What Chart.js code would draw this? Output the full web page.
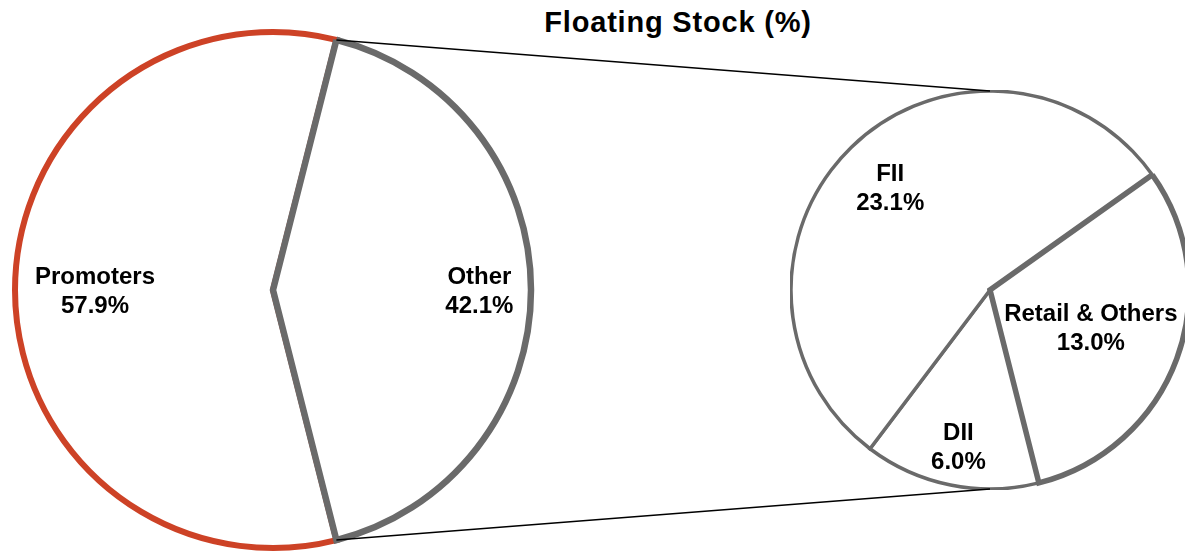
<!DOCTYPE html>
<html>
<head>
<meta charset="utf-8">
<script src="https://cdn.jsdelivr.net/npm/chart.js@4.4.1/dist/chart.umd.min.js"></script>
<style>
  html, body { margin: 0; padding: 0; background: #fff; width: 1185px; height: 552px; overflow: hidden; }
  #title {
    position: absolute; left: 428px; top: 6px; width: 500px; text-align: center;
    font: bold 29px "Liberation Sans", Arial, sans-serif; letter-spacing: 0.8px; line-height: 32px; color: #000;
  }
  #mainBox { position: absolute; left: 3px; top: 20px; }
  #subBox { position: absolute; left: 790px; top: 90px; }
  #overlay { position: absolute; left: 0; top: 0; pointer-events: none; }
</style>
</head>
<body>
<div id="title">Floating Stock (%)</div>
<div id="mainBox"><canvas id="mainPie" width="540" height="540"></canvas></div>
<div id="subBox"><canvas id="subPie" width="400" height="400"></canvas></div>
<canvas id="overlay" width="1185" height="552"></canvas>
<script>
'use strict';

// shareholding data
const mainLabels = ['Promoters', 'Other'];
const mainValues = [57.9, 42.1];

// the "Other" slice split out
const subLabels = ['DII', 'FII', 'Retail & Others'];
const subValues = [6.0, 23.1, 13.0];

const red = '#cd4226';
const grey = '#6a6a6a';

// turn the pie so the "Other" slice faces the second pie
const total = mainValues[0] + mainValues[1];
const promoDeg = mainValues[0] / total * 360;
const otherDeg = mainValues[1] / total * 360;
const pieRotation = 450 - promoDeg - otherDeg / 2;

// draws name + value inside each slice
const sliceLabels = {
  id: 'sliceLabels',
  afterDatasetsDraw(chart, args, opts) {
    const ctx = chart.ctx;
    const meta = chart.getDatasetMeta(0);
    ctx.save();
    ctx.font = 'bold 24px "Liberation Sans", Arial, sans-serif';
    ctx.fillStyle = '#000';
    ctx.textAlign = 'center';
    ctx.textBaseline = 'middle';
    meta.data.forEach((arc, i) => {
      const p = arc.getProps(['x', 'y', 'startAngle', 'endAngle', 'outerRadius'], true);
      const mid = (p.startAngle + p.endAngle) / 2;
      const r = p.outerRadius * opts.factors[i];
      const x = p.x + Math.cos(mid) * r;
      const y = p.y + Math.sin(mid) * r + 1.5;
      const value = chart.data.datasets[0].data[i];
      ctx.fillText(chart.data.labels[i], x, y - 14.5);
      ctx.fillText(value.toFixed(1) + '%', x, y + 14.5);
    });
    ctx.restore();
  }
};

function pieConfig(labels, values, borderColors, borderWidths, radius, factors) {
  return {
    type: 'pie',
    data: {
      labels: labels,
      datasets: [{
        data: values,
        backgroundColor: '#ffffff',
        borderColor: borderColors,
        borderWidth: borderWidths,
        borderJoinStyle: 'miter'
      }]
    },
    options: {
      responsive: false,
      animation: false,
      rotation: pieRotation,
      radius: radius,
      layout: { padding: 0 },
      events: [],
      plugins: {
        legend: { display: false },
        tooltip: { enabled: false },
        title: { display: false },
        sliceLabels: { factors: factors }
      }
    },
    plugins: [sliceLabels]
  };
}

const mainChart = new Chart(document.getElementById('mainPie'),
  pieConfig(mainLabels, mainValues, [red, grey], [6, 6.5], 258, [0.69, 0.80]));

const subChart = new Chart(document.getElementById('subPie'),
  pieConfig(subLabels, subValues, [grey, grey, grey], [3.5, 3.5, 5.5], 199, [0.80, 0.72, 0.54]));

// connector lines from the "Other" slice edges to the top/bottom of the second pie
function drawConnectors() {
  const ctx = document.getElementById('overlay').getContext('2d');
  const mr = mainChart.canvas.getBoundingClientRect();
  const sr = subChart.canvas.getBoundingClientRect();
  const other = mainChart.getDatasetMeta(0).data[1].getProps(['x', 'y', 'startAngle', 'endAngle', 'outerRadius'], true);
  const sub = subChart.getDatasetMeta(0).data[0].getProps(['x', 'y', 'outerRadius'], true);

  const x1 = mr.left + other.x + Math.cos(other.startAngle) * other.outerRadius;
  const y1 = mr.top + other.y + Math.sin(other.startAngle) * other.outerRadius;
  const x2 = mr.left + other.x + Math.cos(other.endAngle) * other.outerRadius;
  const y2 = mr.top + other.y + Math.sin(other.endAngle) * other.outerRadius;

  ctx.strokeStyle = '#000';
  ctx.lineWidth = 1.5;
  ctx.beginPath();
  ctx.moveTo(x1, y1);
  ctx.lineTo(sr.left + sub.x, sr.top + sub.y - sub.outerRadius);
  ctx.moveTo(x2, y2);
  ctx.lineTo(sr.left + sub.x, sr.top + sub.y + sub.outerRadius);
  ctx.stroke();
}

drawConnectors();
</script>
</body>
</html>
